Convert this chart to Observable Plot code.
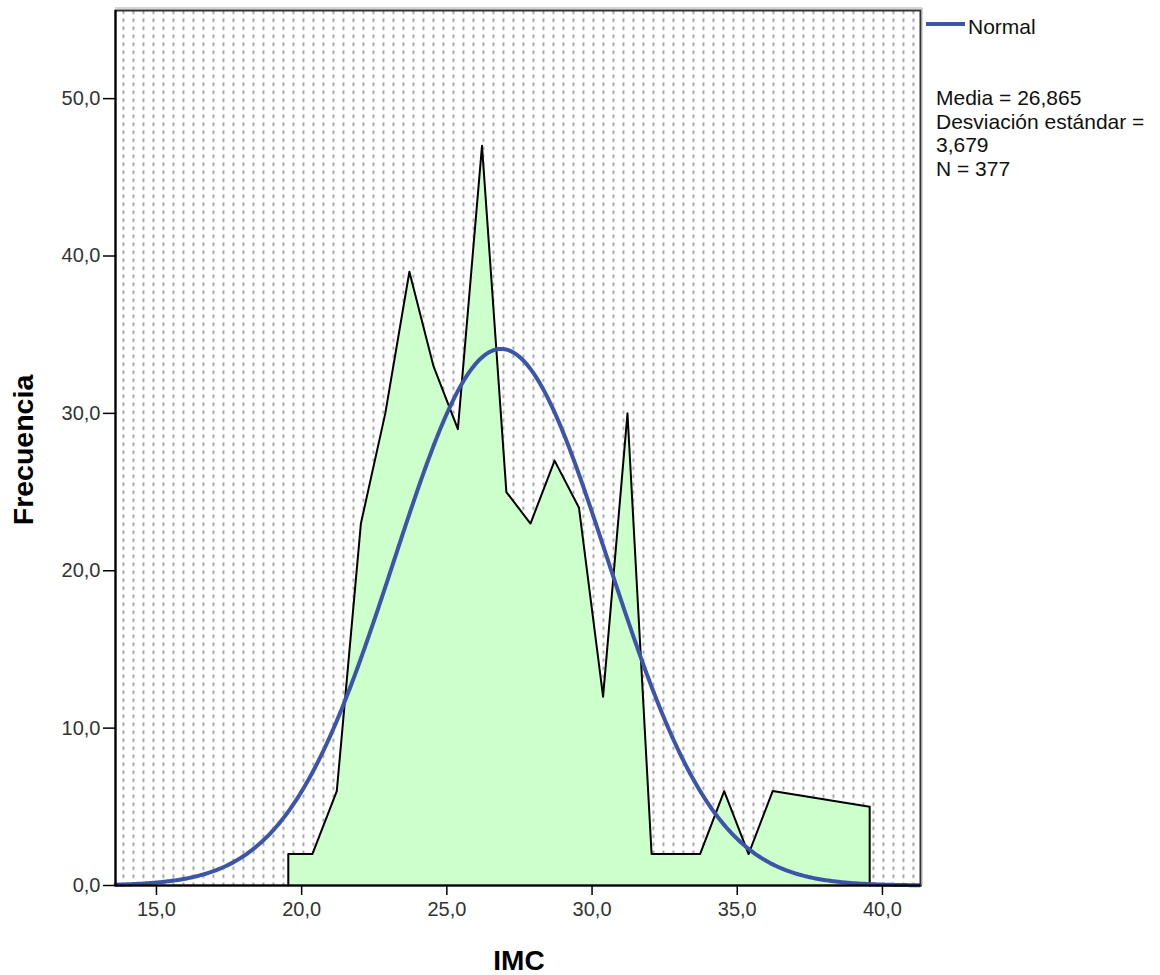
<!DOCTYPE html>
<html>
<head>
<meta charset="utf-8">
<script src="https://cdn.jsdelivr.net/npm/d3@7"></script>
<script src="https://cdn.jsdelivr.net/npm/@observablehq/plot@0.6"></script>
<style>
  body { margin: 0; background: #fff; }
  #wrap { position: relative; width: 1160px; height: 975px; }
</style>
</head>
<body>
<div id="wrap"></div>
<script>
// Frequency polygon vertices (IMC midpoint, Frecuencia)
const imcValues = [19.54, 19.54, 20.37, 21.21, 22.04, 22.88, 23.71, 24.54, 25.38, 26.21, 27.05, 27.88, 28.71, 29.55, 30.38, 31.22, 32.05, 33.72, 34.55, 35.39, 36.22, 39.56, 39.56];
const frecuencias = [0, 2, 2, 6, 23, 30, 39, 33, 29, 47, 25, 23, 27, 24, 12, 30, 2, 2, 6, 2, 6, 5, 0];

// Summary statistics shown in the legend
const mediaIMC = 26.865;
const desvIMC = 3.679;
const nIMC = 377;
const anchoIntervalo = 0.834;

// Axis ticks
const xTicks = [15, 20, 25, 30, 35, 40];
const yTicks = [0, 10, 20, 30, 40, 50];
const xDomain = [13.59, 41.31];
const yDomain = [0, 55.6];

const FONT = '"Liberation Sans", Arial, Helvetica, sans-serif';
const fmt = d => d.toFixed(1).replace(".", ",");

const polygon = imcValues.map((x, i) => ({x, y: frecuencias[i]}));

// Fitted normal curve from the legend parameters
const normal = [];
for (let x = xDomain[0]; x <= xDomain[1] + 1e-9; x += 0.05) {
  const z = (x - mediaIMC) / desvIMC;
  normal.push({x, y: nIMC * anchoIntervalo * Math.exp(-0.5 * z * z) / (desvIMC * Math.sqrt(2 * Math.PI))});
}

const chart = Plot.plot({
  width: 1160,
  height: 975,
  marginLeft: 115,
  marginRight: 240,
  marginTop: 10,
  marginBottom: 90,
  style: {fontFamily: FONT, fontSize: "20px", color: "#222", background: "#fff"},
  x: {domain: xDomain, label: null},
  y: {domain: yDomain, label: null},
  marks: [
    Plot.frame({fill: "url(#dots)"}),
    Plot.areaY(polygon, {x: "x", y: "y", fill: "#ccffcc", curve: "linear"}),
    Plot.line(polygon, {x: "x", y: "y", stroke: "#000", strokeWidth: 2, curve: "linear"}),
    Plot.line(normal, {x: "x", y: "y", stroke: "#3d55a8", strokeWidth: 4, curve: "linear"}),
    Plot.frame({stroke: "#333", strokeWidth: 2}),
    Plot.ruleY([0], {stroke: "#000", strokeWidth: 2}),
    Plot.ruleX([xDomain[0]], {stroke: "#000", strokeWidth: 2}),
    Plot.axisX({ticks: xTicks, tickFormat: fmt, tickSize: 10, tickPadding: 6, stroke: "#000", strokeWidth: 1.5, fill: "#333", fontSize: 20, label: null}),
    Plot.axisY({ticks: yTicks, tickFormat: fmt, tickSize: 12, tickPadding: 3, stroke: "#000", strokeWidth: 1.5, fill: "#333", fontSize: 20, label: null})
  ]
});

const svg = d3.select(chart.tagName.toLowerCase() === "svg" ? chart : chart.querySelector("svg"));
const defs = svg.insert("defs", ":first-child");
const pat = defs.append("pattern")
  .attr("id", "dots")
  .attr("patternUnits", "userSpaceOnUse")
  .attr("x", 2).attr("y", 0)
  .attr("width", 10).attr("height", 8);
pat.append("rect").attr("width", 10).attr("height", 8).attr("fill", "#fff");
pat.append("rect").attr("x", 0).attr("y", 2).attr("width", 1.8).attr("height", 3.5).attr("fill", "#9a9a9a");

// Light outer edge on top/right of the plot frame
svg.append("path")
  .attr("d", "M115,8 H922 V885")
  .attr("fill", "none").attr("stroke", "#aaa").attr("stroke-width", 1);

// Axis titles
svg.append("text")
  .attr("x", 519).attr("y", 970)
  .attr("text-anchor", "middle")
  .attr("font-family", FONT).attr("font-weight", "bold").attr("font-size", 28)
  .attr("fill", "#000")
  .text("IMC");
svg.append("text")
  .attr("transform", "translate(33,450) rotate(-90)")
  .attr("text-anchor", "middle")
  .attr("font-family", FONT).attr("font-weight", "bold").attr("font-size", 28.5)
  .attr("fill", "#000")
  .text("Frecuencia");

// Legend
const lg = svg.append("g")
  .attr("font-family", FONT).attr("font-size", 21).attr("fill", "#111")
  .attr("text-anchor", "start");
lg.append("line").attr("x1", 926).attr("x2", 965).attr("y1", 24).attr("y2", 24)
  .attr("stroke", "#3d55a8").attr("stroke-width", 4);
lg.append("text").attr("x", 968).attr("y", 34).attr("text-anchor", "start").text("Normal");
const statLines = [
  "Media = " + mediaIMC.toFixed(3).replace(".", ","),
  "Desviación estándar =",
  desvIMC.toFixed(3).replace(".", ","),
  "N = " + nIMC
];
statLines.forEach((t, i) => {
  lg.append("text").attr("x", 936).attr("y", 105 + i * 23.5).attr("text-anchor", "start").text(t);
});

document.getElementById("wrap").appendChild(chart);
</script>
</body>
</html>
